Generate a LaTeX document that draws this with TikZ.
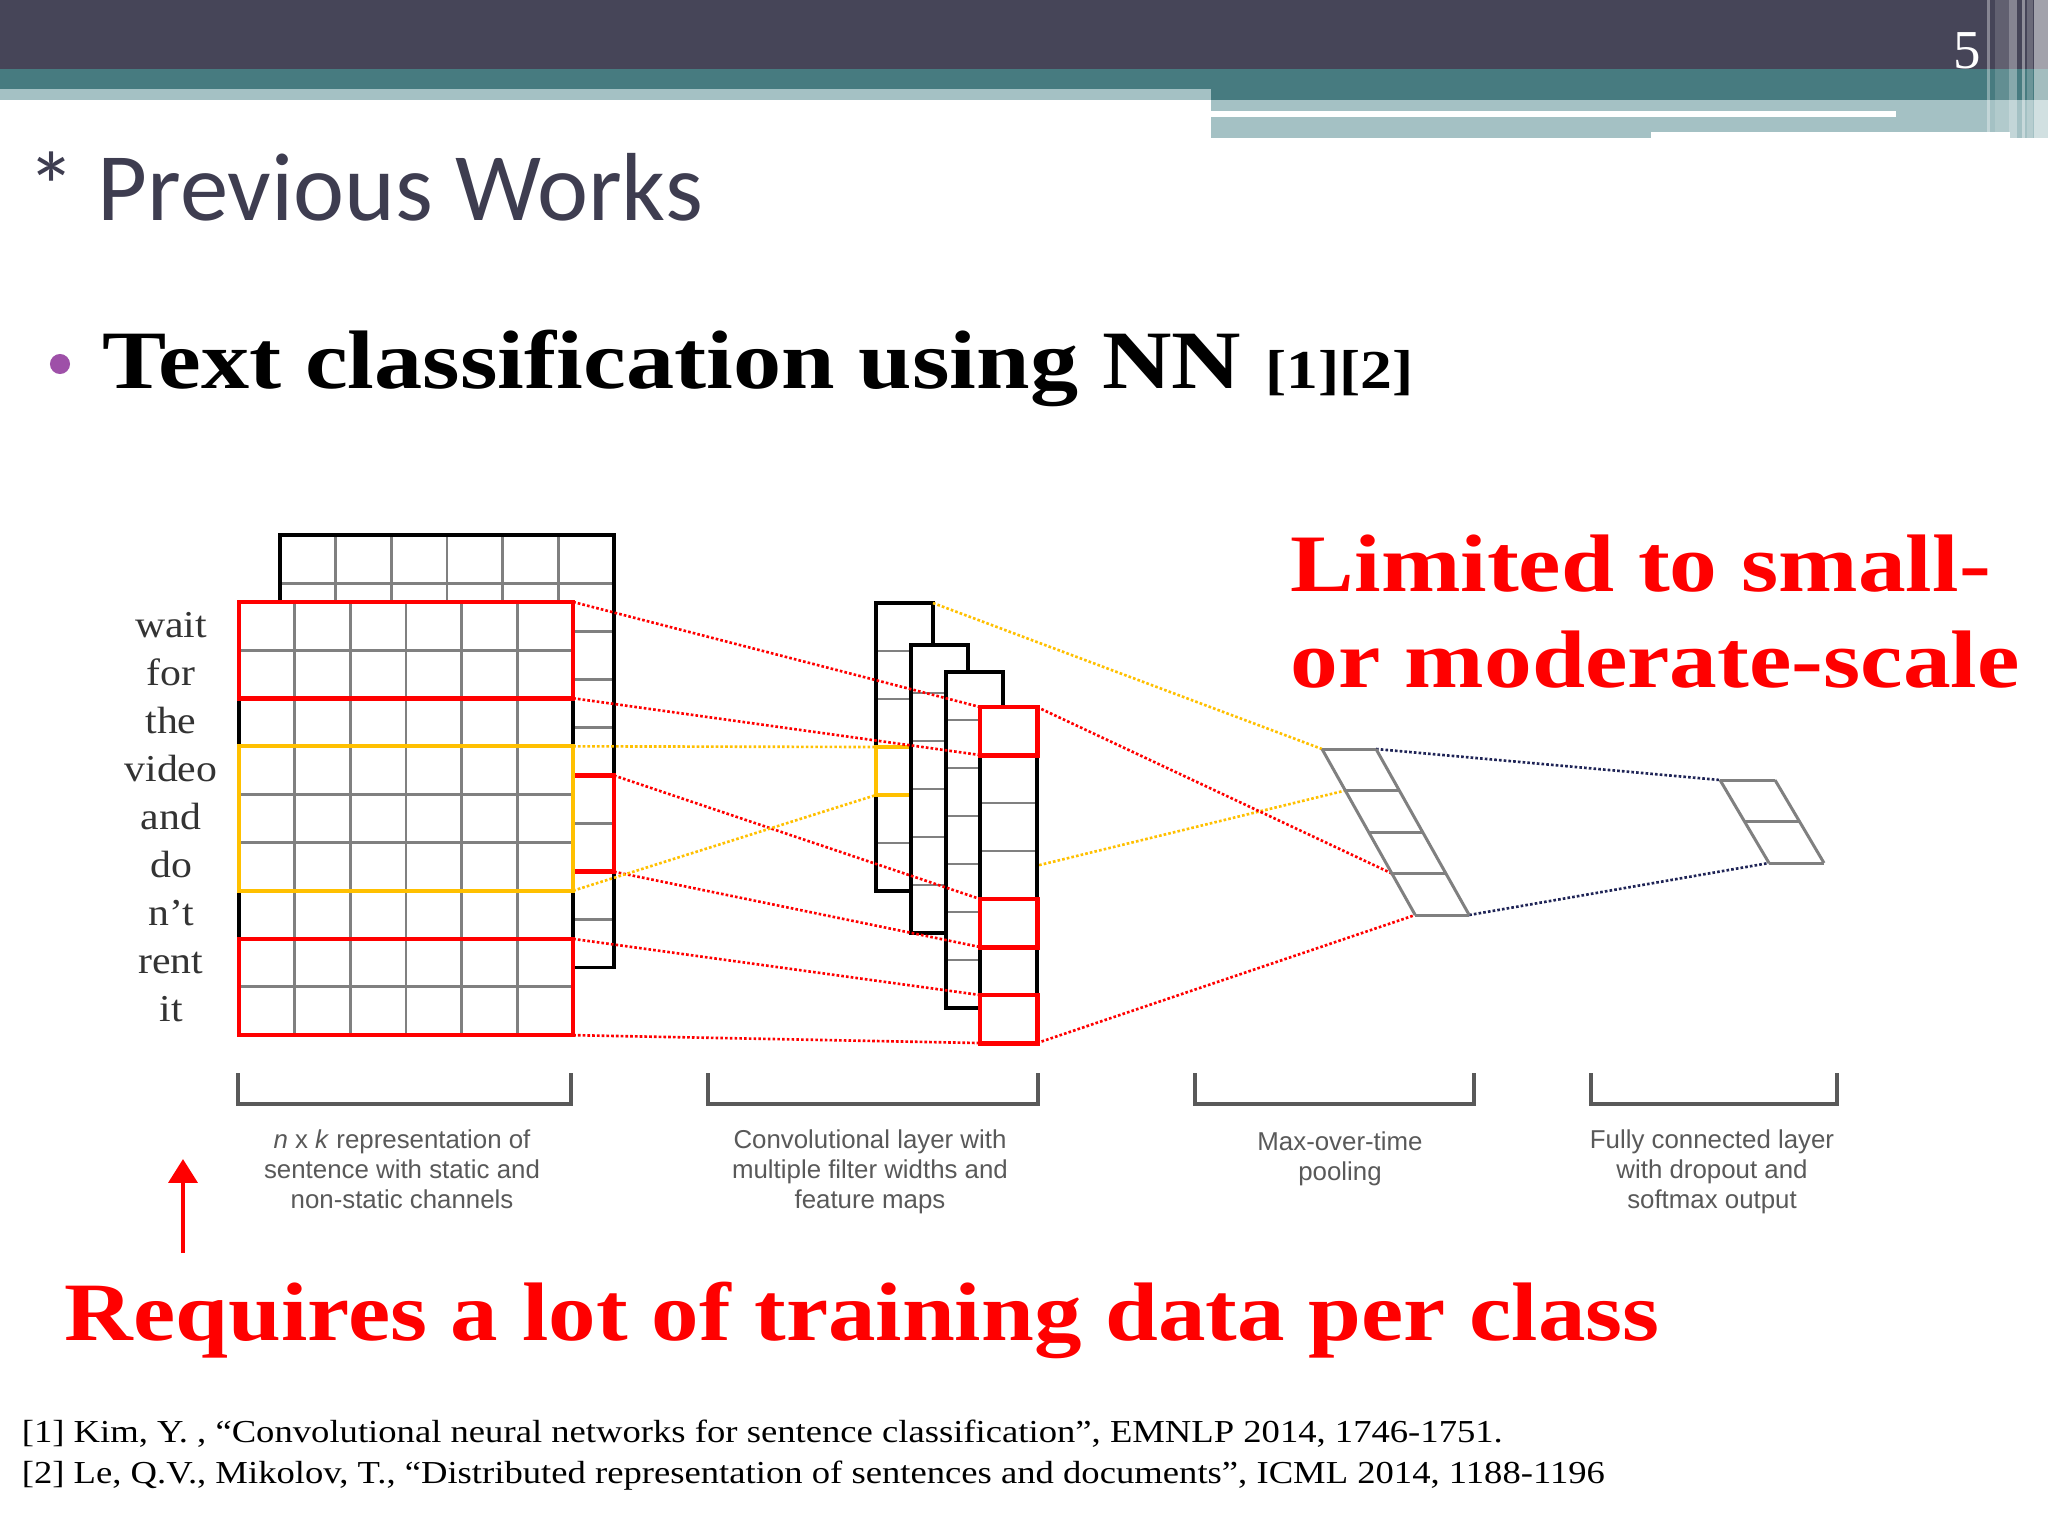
\documentclass[tikz,border=0pt]{standalone}
\usepackage{fontspec}
\setmainfont{Liberation Serif}
\setsansfont{Liberation Sans}
\newfontfamily\titlefont{Carlito}
\usetikzlibrary{arrows.meta}

\definecolor{barDark}{HTML}{464558}
\definecolor{barTeal}{HTML}{477B80}
\definecolor{barLight}{HTML}{A4C1C4}
\definecolor{titleGray}{HTML}{3E3D50}
\definecolor{bulletPurple}{HTML}{9E50A8}
\definecolor{filterYellow}{HTML}{FFC000}
\definecolor{fcNavy}{HTML}{1F2456}
\definecolor{labelGray}{HTML}{595959}
\definecolor{wordGray}{HTML}{333333}

\tikzset{
  gridline/.style={draw=gray, line width=0.8pt},
  outline/.style={draw=black, line width=0.9pt},
  redbox/.style={draw=red, line width=1.3pt, inner sep=0pt, outer sep=0pt, anchor=north west},
  yellowbox/.style={draw=filterYellow, line width=1.2pt, inner sep=0pt, outer sep=0pt, anchor=north west},
  reddots/.style={draw=red, line width=0.75pt, dash pattern=on 0.75pt off 0.6pt},
  yellowdots/.style={draw=filterYellow, line width=0.75pt, dash pattern=on 0.75pt off 0.6pt},
  navydots/.style={draw=fcNavy, line width=0.75pt, dash pattern=on 0.75pt off 0.6pt},
  poolline/.style={draw=gray, line width=0.85pt},
  bracket/.style={draw=labelGray, line width=0.9pt},
  titletext/.style={text=titleGray, font=\titlefont\fontsize{27.5}{32}\selectfont, inner sep=0pt},
  headtext/.style={font=\bfseries\fontsize{23.6}{27}\selectfont, xscale=1.16, inner sep=0pt},
  notetext/.style={text=red, font=\bfseries\fontsize{23.2}{27}\selectfont, xscale=1.17, inner sep=0pt},
  wordtext/.style={text=wordGray, font=\fontsize{10.8}{12}\selectfont, xscale=1.1, inner sep=0pt},
  labeltext/.style={text=labelGray, font=\sffamily\fontsize{7.35}{8.5}\selectfont, align=center, inner sep=0pt},
  reftext/.style={font=\fontsize{9.1}{11}\selectfont, xscale=1.145, inner sep=0pt},
}

\begin{document}
\begin{tikzpicture}[x=0.01cm, y=-0.01cm]
      \useasboundingbox (0,0) rectangle (2048,1536);
      \fill[white] (0,0) rectangle (2048,1536);

      % header bars
      \fill[barDark] (0,0) rectangle (2048,69);
      \fill[barTeal] (0,69) rectangle (2048,89);
      \fill[barTeal] (1211,89) rectangle (2048,100);
      \fill[barLight] (0,89) rectangle (1211,100);
      \fill[barLight] (1211,100) rectangle (2048,138);
      \fill[white] (1211,111) rectangle (1896,117);
      \fill[white] (1651,132) rectangle (2010,138);
      \fill[white, opacity=0.35] (1987,0) rectangle (1990,138);
      \fill[white, opacity=0.15] (1995,0) rectangle (2009,138);
      \fill[white, opacity=0.35] (2009,0) rectangle (2017,138);
      \fill[white, opacity=0.4] (2022,0) rectangle (2025,138);
      \fill[white, opacity=0.2] (2027,0) rectangle (2033,138);
      \fill[white, opacity=0.5] (2034,0) rectangle (2048,138);
      \node[anchor=base, text=white, font=\fontsize{15.6}{16}\selectfont, inner sep=0pt] (pagenum) at (1967,68) {5};

      % title and bullet
      \node[titletext, anchor=base west] (title) at (27,220) {* Previous Works};
      \fill[bulletPurple] (60,364) circle (2.85pt);
      \node[headtext, anchor=base west] (heading) at (102,388) {Text classification using NN {\fontsize{15.6}{17}\selectfont [1][2]}};

      % back channel
      \begin{scope}[shift={(280,535)}, xscale=55.67, yscale=48.1]
        \fill[white] (0,0) rectangle (6,9);
        \foreach \c in {1,...,5} \draw[gridline] (\c,0) -- (\c,9);
        \foreach \r in {1,...,8} \draw[gridline] (0,\r) -- (6,\r);
        \draw[outline] (0,0) rectangle (6,9);
      \end{scope}
      \node[redbox, minimum width=0.41cm, minimum height=0.962cm] (win2) at (573,775.5) {};

      % front channel
      \begin{scope}[shift={(239,602)}, xscale=55.67, yscale=48.1]
        \fill[white] (0,0) rectangle (6,9);
        \foreach \c in {1,...,5} \draw[gridline] (\c,0) -- (\c,9);
        \foreach \r in {1,...,8} \draw[gridline] (0,\r) -- (6,\r);
        \draw[outline] (0,0) rectangle (6,9);
      \end{scope}
      \node[redbox, minimum width=3.34cm, minimum height=0.962cm] (win1) at (239,602) {};
      \node[yellowbox, minimum width=3.34cm, minimum height=1.443cm] (winY) at (239,746.3) {};
      \node[redbox, minimum width=3.34cm, minimum height=0.962cm] (win3) at (239,938.9) {};

      % words
      \foreach \w [count=\i from 0] in {wait,for,the,video,and,do,n't,rent,it}
        \node[wordtext, anchor=base] (word\i) at (171,{637+48.1*\i}) {\w};

      % pooling and output corners
      \foreach \i in {0,...,4} {
        \coordinate (pl\i) at ({1322+23.3*\i},{749+41.5*\i});
        \coordinate (pr\i) at ({1376+23.3*\i},{749+41.5*\i});
      }
      \foreach \i in {0,1,2} {
        \coordinate (fl\i) at ({1720+24.5*\i},{780+41.5*\i});
        \coordinate (fr\i) at ({1775+24.5*\i},{780+41.5*\i});
      }

      % feature maps
      \begin{scope}[shift={(876,603)}, xscale=57, yscale=48]
        \fill[white] (0,0) rectangle (1,6);
        \foreach \r in {1,...,5} \draw[gridline] (0,\r) -- (1,\r);
        \draw[outline] (0,0) rectangle (1,6);
      \end{scope}
      \node[yellowbox, minimum width=0.57cm, minimum height=0.48cm] (mapY) at (876,747) {};
      \coordinate (map1ne) at (933,603);
      \coordinate (map1se) at (933,891);
      \draw[yellowdots] (map1se) -- (pl1);
      \foreach \mx/\my/\mr in {911/645/6, 946/672/7, 980/707/7} {
        \begin{scope}[shift={(\mx,\my)}, xscale=57, yscale=48]
          \fill[white] (0,0) rectangle (1,\mr);
          \foreach \r in {1,...,\mr} \draw[gridline] (0,\r) -- (1,\r);
          \draw[outline] (0,0) rectangle (1,\mr);
        \end{scope}
      }
      \node[redbox, line width=1.4pt, minimum width=0.57cm, minimum height=0.48cm] (fm1) at (980,707) {};
      \node[redbox, line width=1.4pt, minimum width=0.57cm, minimum height=0.48cm] (fm2) at (980,899) {};
      \node[redbox, line width=1.4pt, minimum width=0.57cm, minimum height=0.48cm] (fm3) at (980,995) {};

      % connectors
      \draw[reddots] (win1.north east) -- (fm1.north west);
      \draw[reddots] (win1.south east) -- (fm1.south west);
      \draw[reddots] (win2.north east) -- (fm2.north west);
      \draw[reddots] (win2.south east) -- (fm2.south west);
      \draw[reddots] (win3.north east) -- (fm3.north west);
      \draw[reddots] (win3.south east) -- (fm3.south west);
      \draw[yellowdots] (winY.north east) -- (mapY.north west);
      \draw[yellowdots] (winY.south east) -- (mapY.south west);
      \draw[yellowdots] (map1ne) -- (pl0);
      \draw[reddots] (fm1.north east) -- (pl3);
      \draw[reddots] (fm3.south east) -- (pl4);
      \draw[navydots] (pr0) -- (fl0);
      \draw[navydots] (pr4) -- (fl2);

      % pooling and output layers
      \draw[poolline] (pl0) -- (pl4) (pr0) -- (pr4);
      \foreach \i in {0,...,4} \draw[poolline] (pl\i) -- (pr\i);
      \draw[poolline] (fl0) -- (fl2) (fr0) -- (fr2);
      \foreach \i in {0,1,2} \draw[poolline] (fl\i) -- (fr\i);

      % brackets and captions
      \draw[bracket] (238,1073) |- (571,1104) -- (571,1073);
      \draw[bracket] (708,1073) |- (1038,1104) -- (1038,1073);
      \draw[bracket] (1195,1073) |- (1474,1104) -- (1474,1073);
      \draw[bracket] (1591,1073) |- (1837,1104) -- (1837,1073);
      \node[labeltext, anchor=north] (capInput) at (402,1129) {\textit{n} x \textit{k} representation of\\sentence with static and\\non-static channels};
      \node[labeltext, anchor=north] (capConv) at (870,1129) {Convolutional layer with\\multiple filter widths and\\feature maps};
      \node[labeltext, anchor=north] (capPool) at (1340,1131) {Max-over-time\\pooling};
      \node[labeltext, anchor=north] (capOut) at (1712,1129) {Fully connected layer\\with dropout and\\softmax output};

      % remarks
      \node[notetext, anchor=base west] (limit1) at (1290,591) {Limited to small-};
      \node[notetext, anchor=base west] (limit2) at (1290,687) {or moderate-scale};
      \coordinate (arrowTail) at (183,1253);
      \coordinate (arrowTip) at (183,1159);
      \draw[red, line width=1.2pt, -{Triangle[length=6.8pt,width=8.2pt]}] (arrowTail) -- (arrowTip);
      \node[notetext, font=\bfseries\fontsize{23.6}{27}\selectfont, xscale=1.145/1.17, anchor=base west] (needData) at (64,1340) {Requires a lot of training data per class};

      % references
      \node[reftext, anchor=base west] (ref1) at (21,1442) {[1] Kim, Y. , “Convolutional neural networks for sentence classification”, EMNLP 2014, 1746-1751.};
      \node[reftext, anchor=base west] (ref2) at (21,1483) {[2] Le, Q.V., Mikolov, T., “Distributed representation of sentences and documents”, ICML 2014, 1188-1196};
\end{tikzpicture}
\end{document}
